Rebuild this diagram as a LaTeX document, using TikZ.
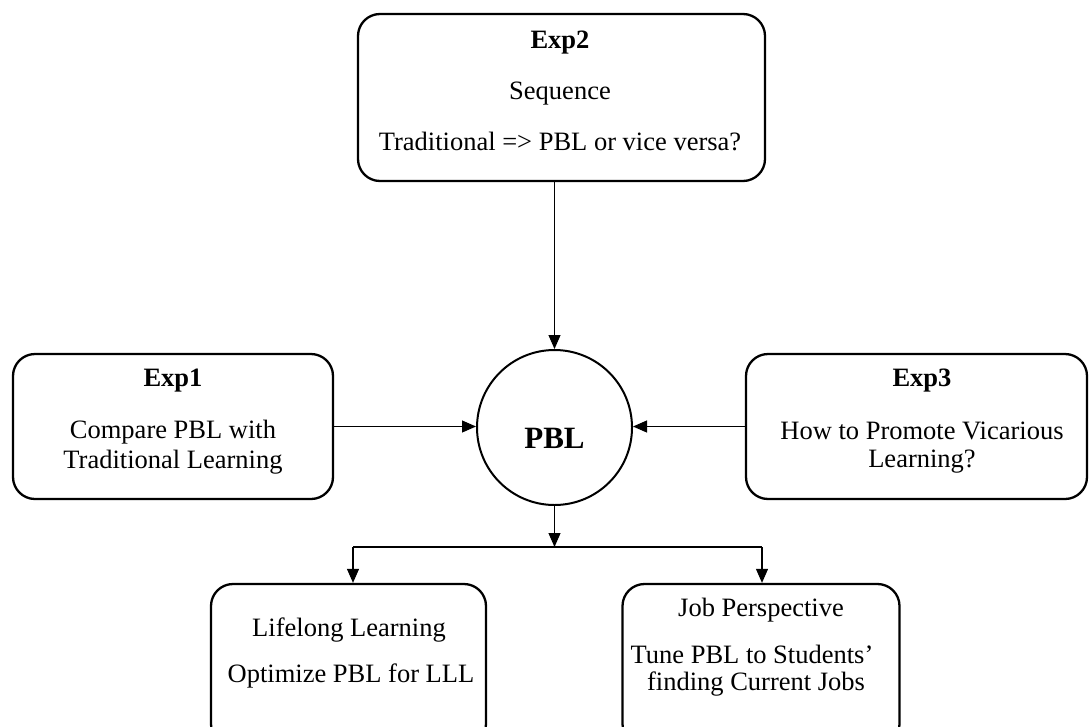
\documentclass[tikz,border=0pt]{standalone}
\usepackage{fontspec}
\setmainfont{Liberation Serif}
\usetikzlibrary{arrows.meta}
\begin{document}
\begin{tikzpicture}[x=1pt,y=-1pt,
  box/.style={draw, line width=2.3pt, rounded corners=22pt, inner sep=0pt},
  hub/.style={draw, circle, line width=2pt, inner sep=0pt, minimum size=155pt},
  txt/.style={anchor=base, inner sep=0pt, font=\fontsize{26.5}{30}\selectfont},
  ttl/.style={anchor=base, inner sep=0pt, font=\fontsize{26.5}{30}\selectfont\bfseries},
  link/.style={line width=1.1pt, -{Triangle[length=14pt,width=12pt]}},
  wire/.style={line width=1.1pt}]
\useasboundingbox (0,0) rectangle (1090,726);
\clip (0,0) rectangle (1090,726);

% boxes
\node[box, minimum width=407pt, minimum height=167pt] (exp2) at (561.5,97.5) {};
\node[box, minimum width=320pt, minimum height=145pt] (exp1) at (173,426.5) {};
\node[box, minimum width=341pt, minimum height=145pt] (exp3) at (916.5,426.5) {};
\node[box, minimum width=275pt, minimum height=162pt] (life) at (348.5,665) {};
\node[box, minimum width=277pt, minimum height=162pt] (job) at (761,665) {};
\node[hub] (pbl) at (554.5,427.5) {};

% texts
\node[ttl] (t2a) at (560,48) {Exp2};
\node[txt] (t2b) at (560,99) {Sequence};
\node[txt] (t2c) at (560,150) {Traditional => PBL or vice versa?};

\node[ttl] (t1a) at (173,386) {Exp1};
\node[txt] (t1b) at (173,438) {Compare PBL with};
\node[txt] (t1c) at (173,468) {Traditional Learning};

\node[ttl] (t3a) at (922,386) {Exp3};
\node[txt] (t3b) at (922,439) {How to Promote Vicarious};
\node[txt] (t3c) at (922,467) {Learning?};

\node[anchor=base, inner sep=0pt, font=\fontsize{31}{34}\selectfont\bfseries] (tp) at (554.5,448) {PBL};

\node[txt] (tla) at (349,636) {Lifelong Learning};
\node[txt] (tlb) at (351,682) {Optimize PBL for LLL};

\node[txt] (tja) at (761,616) {Job Perspective};
\node[txt] (tjb) at (752,663) {Tune PBL to Students’};
\node[txt] (tjc) at (756,690) {finding Current Jobs};

% connectors
\draw[link] (exp2.south -| pbl.center) -- (pbl.north);
\draw[link] (exp1.east) -- (exp1.east -| pbl.west);
\draw[link] (exp3.west) -- (exp3.west -| pbl.east);

\coordinate (jc) at (554.5,547);
\coordinate (jl) at (353,547);
\coordinate (jr) at (762,547);
\draw[link] (pbl.south) -- (jc);
\draw[wire] (jl) -- (jr);
\draw[link] (jl) -- (jl |- life.north);
\draw[link] (jr) -- (jr |- job.north);
\end{tikzpicture}
\end{document}
